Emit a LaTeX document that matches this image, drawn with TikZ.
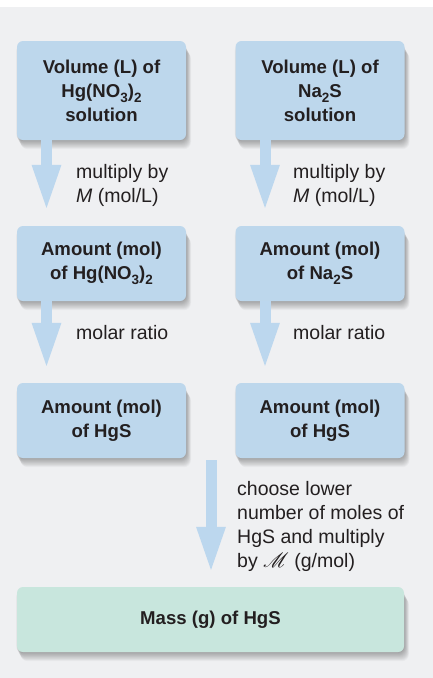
\documentclass[tikz,border=0pt]{standalone}
\usepackage{fontspec}
\setmainfont{Liberation Sans}
\usepackage{mathrsfs}
\usetikzlibrary{arrows.meta}
\definecolor{bgcol}{HTML}{EFF0F2}
\definecolor{boxblue}{HTML}{BDD7EC}
\definecolor{boxgreen}{HTML}{C8E6DD}
\definecolor{arrowblue}{HTML}{BCD7EE}
\definecolor{txt}{HTML}{231F20}
\pgfdeclarelayer{bglayer}
\pgfdeclarelayer{shadowlayer}
\pgfsetlayers{bglayer,shadowlayer,main}
\newcommand{\sbs}[1]{\raisebox{-0.28em}{\fontsize{13.5}{13.5}\selectfont #1}}
\newcommand{\boxshadow}[1]{%
  \foreach \k in {1,...,12}{%
    \fill[black, opacity=0.028, rounded corners=7pt]
      ([xshift=\k*0.4pt-1pt, yshift=-\k*0.75pt]#1.south west)
      rectangle ([xshift=\k*0.4pt, yshift=-\k*0.75pt-2pt]#1.north east);
  }}
\begin{document}
\begin{tikzpicture}[x=1pt,y=-1pt,
  stepbox/.style={fill=boxblue, rounded corners=6pt, minimum width=169pt, inner sep=0pt,
    text=txt, align=center, font=\fontsize{18.6}{24}\selectfont\bfseries},
  massbox/.style={stepbox, fill=boxgreen, minimum width=387pt},
  fat/.style={draw=arrowblue, line width=11pt, line cap=butt,
    -{Triangle[width=26pt,length=47pt,fill=arrowblue,color=arrowblue]}},
  lbl/.style={anchor=west, align=left, text=txt, inner sep=0pt,
    font=\fontsize{19.5}{24}\selectfont}
]
\useasboundingbox (0,0) rectangle (433,678);
\begin{pgfonlayer}{bglayer}
\fill[white] (0,0) rectangle (433,678);
\fill[bgcol] (0,7) rectangle (433,678);
\end{pgfonlayer}

\node[stepbox, minimum height=99pt] (b1) at (101.5,90.5) {Volume (L) of\\Hg(NO\sbs{3})\sbs{2}\\solution};
\node[stepbox, minimum height=99pt] (b2) at (320,90.5) {Volume (L) of\\Na\sbs{2}S\\solution};
\node[stepbox, minimum height=75pt] (b3) at (101.5,263.5) {Amount (mol)\\of Hg(NO\sbs{3})\sbs{2}};
\node[stepbox, minimum height=75pt] (b4) at (320,263.5) {Amount (mol)\\of Na\sbs{2}S};
\node[stepbox, minimum height=75pt] (b5) at (101.5,420.5) {Amount (mol)\\of HgS};
\node[stepbox, minimum height=75pt] (b6) at (320,420.5) {Amount (mol)\\of HgS};
\node[massbox, minimum height=65pt] (b7) at (210.5,619.5) {Mass (g) of HgS};

\begin{pgfonlayer}{shadowlayer}
\boxshadow{b1}\boxshadow{b2}\boxshadow{b3}\boxshadow{b4}\boxshadow{b5}\boxshadow{b6}\boxshadow{b7}
\end{pgfonlayer}

\coordinate (a1s) at ([xshift=-55pt]b1.south);
\coordinate (a1e) at ([xshift=-55pt,yshift=14pt]b3.north);
\coordinate (a2s) at ([xshift=-55pt]b2.south);
\coordinate (a2e) at ([xshift=-55pt,yshift=14pt]b4.north);
\coordinate (a3s) at ([xshift=-55pt]b3.south);
\coordinate (a3e) at ([xshift=-55pt,yshift=13pt]b5.north);
\coordinate (a4s) at ([xshift=-55pt]b4.south);
\coordinate (a4e) at ([xshift=-55pt,yshift=13pt]b6.north);
\coordinate (a5s) at (211,460);
\coordinate (a5e) at ([xshift=0.5pt,yshift=13pt]b7.north);

\draw[fat] (a1s) -- (a1e);
\draw[fat] (a2s) -- (a2e);
\draw[fat] (a3s) -- (a3e);
\draw[fat] (a4s) -- (a4e);
\draw[fat] (a5s) -- (a5e);

\node[lbl] (t1) at (76,185) {multiply by\\\textit{M} (mol/L)};
\node[lbl] (t2) at (293,185) {multiply by\\\textit{M} (mol/L)};
\node[lbl] (t3) at (76,333) {molar ratio};
\node[lbl] (t4) at (293,333) {molar ratio};
\node[lbl] (t5) at (237,526) {choose lower\\number of moles of\\HgS and multiply\\by $\mathscr{M}$ (g/mol)};
\end{tikzpicture}
\end{document}
